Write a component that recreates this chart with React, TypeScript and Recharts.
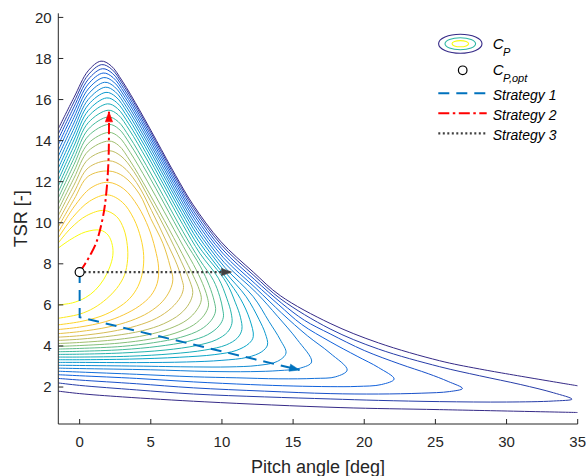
import React from 'react';
import { ComposedChart, Line, Scatter, XAxis, YAxis, Customized } from 'recharts';

type P = [number, number];

const xTicks = [0, 5, 10, 15, 20, 25, 30, 35];
const yTicks = [2, 4, 6, 8, 10, 12, 14, 16, 18, 20];

// Cp contour lines (pitch angle [deg], TSR [-]), outermost (lowest Cp) first
const cp01Upper: P[] = [[-1.5,14.58],[-0.4,16.1],[0.6,17.4],[1.5,17.87],[2.2,17.65],[3.0,16.9],[4.2,15.5],[5.4,14.0],[6.75,12.3],[7.95,10.9],[9.9,9.1],[12.2,7.6],[14.1,6.45],[17.6,5.1],[21.0,4.15],[25.3,3.28],[28.1,2.88],[35,2.06]];
const cp01Lower: P[] = [[-1.5,1.8],[0,1.68],[3,1.52],[8.8,1.28],[18.3,1.0],[25.3,0.9],[35,0.76]];
const cp02: P[] = [[-1.5,14.33],[-0.4,15.88],[0.6,17.2],[1.55,17.7],[2.25,17.48],[3.05,16.73],[4.25,15.33],[5.45,13.83],[6.8,12.13],[8.0,10.73],[9.95,8.93],[12.25,7.43],[14.15,6.28],[17.6,4.83],[21,3.85],[25.3,2.99],[28.1,2.55],[31,2.12],[33.3,1.72],[34.6,1.41],[33.3,1.32],[30,1.27],[25.3,1.29],[21,1.35],[17.6,1.42],[13,1.52],[8,1.66],[4,1.86],[0,2.08],[-1.5,2.2]];
const cp03: P[] = [[-1.5,14.07],[-0.4,15.64],[0.6,16.98],[1.6,17.5],[2.3,17.28],[3.1,16.53],[4.3,15.13],[5.5,13.63],[6.85,11.93],[8.05,10.53],[10.0,8.73],[12.3,7.23],[14.2,6.08],[15.8,5.25],[17.6,4.59],[20,3.78],[22.5,3.12],[24.5,2.65],[25.9,2.27],[26.9,1.93],[26.0,1.78],[24,1.7],[21,1.66],[17.6,1.68],[13,1.8],[8,1.96],[4,2.16],[0,2.34],[-1.5,2.42]];
const cp04: P[] = [[-1.5,13.8],[-0.4,15.39],[0.6,16.75],[1.65,17.29],[2.35,17.07],[3.15,16.32],[4.35,14.92],[5.55,13.42],[6.9,11.72],[8.1,10.32],[10.05,8.52],[12.35,7.02],[14.0,6.0],[15.6,5.05],[17.6,4.21],[19.5,3.5],[21.0,2.95],[22.1,2.39],[21.2,2.12],[19.5,2.03],[17.6,2.02],[15,2.05],[12,2.12],[8,2.25],[4,2.42],[0,2.55],[-1.5,2.6]];
const cp05: P[] = [[-1.5,13.52],[-0.4,15.13],[0.6,16.51],[1.7,17.07],[2.4,16.85],[3.2,16.1],[4.4,14.7],[5.6,13.2],[6.95,11.5],[8.15,10.1],[10.1,8.3],[12.4,6.8],[14.2,5.6],[16.0,4.5],[17.6,3.65],[18.8,2.83],[18.0,2.5],[16.5,2.42],[14,2.4],[11,2.45],[8,2.5],[4,2.62],[0,2.73],[-1.5,2.77]];
const cp06: P[] = [[-1.5,13.24],[-0.4,14.86],[0.6,16.26],[1.75,16.84],[2.45,16.62],[3.25,15.87],[4.45,14.47],[5.65,12.97],[7.0,11.27],[8.2,9.87],[10.15,8.07],[12.45,6.57],[13.9,5.45],[15.3,4.3],[16.3,3.22],[15.5,2.92],[14,2.8],[12,2.75],[9,2.76],[5,2.84],[0,2.9],[-1.5,2.92]];
const cp07: P[] = [[-1.5,12.95],[-0.4,14.59],[0.6,16.0],[1.8,16.6],[2.5,16.38],[3.3,15.63],[4.5,14.23],[5.7,12.73],[7.05,11.03],[8.25,9.63],[10.2,7.83],[12.2,6.4],[13.3,5.2],[14.1,4.3],[14.5,3.65],[13.9,3.25],[12.5,3.05],[10.5,2.98],[8,2.98],[4,3.02],[0,3.05],[-1.5,3.06]];
const cp08: P[] = [[-1.5,12.66],[-0.4,14.31],[0.6,15.74],[1.85,16.35],[2.55,16.13],[3.35,15.38],[4.55,13.98],[5.75,12.48],[7.1,10.78],[8.3,9.38],[10.25,7.58],[11.7,6.4],[12.6,5.3],[13.05,4.6],[13.2,4.05],[12.8,3.72],[11.8,3.45],[10,3.3],[7.5,3.22],[4,3.19],[0,3.2],[-1.5,3.2]];
const cp09: P[] = [[-1.5,12.37],[-0.4,14.03],[0.6,15.46],[1.9,16.08],[2.6,15.86],[3.4,15.11],[4.6,13.71],[5.8,12.21],[7.15,10.51],[8.35,9.11],[10.3,7.31],[11.3,6.3],[11.95,5.3],[12.2,4.45],[11.9,4.12],[11.0,3.78],[9.5,3.58],[7,3.45],[3.5,3.36],[0,3.33],[-1.5,3.33]];
const cp10: P[] = [[-1.5,12.08],[-0.4,13.74],[0.6,15.17],[1.95,15.79],[2.65,15.57],[3.45,14.82],[4.65,13.42],[5.85,11.92],[7.2,10.22],[8.4,8.82],[10.3,7.1],[10.95,6.1],[11.3,5.4],[11.4,4.8],[11.1,4.4],[10.3,4.05],[8.8,3.8],[6.5,3.62],[3.5,3.5],[0,3.46],[-1.5,3.46]];
const cp11: P[] = [[-1.5,11.79],[-0.4,13.44],[0.6,14.87],[2.0,15.48],[2.7,15.26],[3.5,14.51],[4.7,13.11],[5.9,11.61],[7.25,9.91],[8.45,8.51],[9.75,7.3],[10.35,6.3],[10.65,5.6],[10.7,5.1],[10.4,4.68],[9.6,4.3],[8.2,4.02],[6,3.8],[3,3.66],[0,3.6],[-1.5,3.59]];
const cp12: P[] = [[-1.5,11.5],[-0.4,13.14],[0.6,14.55],[2.0,15.15],[2.7,14.93],[3.5,14.18],[4.7,12.78],[5.9,11.28],[7.25,9.58],[8.45,8.18],[9.4,7.2],[9.85,6.4],[10.05,5.8],[10.1,5.4],[9.8,4.98],[9.0,4.55],[7.6,4.22],[5.5,3.98],[3,3.82],[0,3.74],[-1.5,3.72]];
const cp13: P[] = [[-1.5,11.21],[-0.4,12.83],[0.6,14.22],[2.05,14.79],[2.75,14.57],[3.55,13.82],[4.75,12.42],[5.95,10.92],[7.3,9.22],[8.5,7.85],[9.1,6.95],[9.45,6.2],[9.55,5.7],[9.25,5.25],[8.5,4.8],[7.1,4.42],[5.2,4.16],[3,3.98],[0,3.88],[-1.5,3.85]];
const cp14: P[] = [[-1.5,10.92],[-0.4,12.5],[0.6,13.86],[2.05,14.4],[2.75,14.18],[3.55,13.43],[4.75,12.03],[5.95,10.53],[7.3,8.83],[8.2,7.7],[8.75,6.85],[9.0,6.3],[9.05,5.95],[8.75,5.5],[8.0,5.02],[6.7,4.62],[5.0,4.34],[2.8,4.14],[0,4.02],[-1.5,3.98]];
const cp15: P[] = [[-1.5,10.63],[-0.4,12.17],[0.6,13.49],[2.05,13.98],[2.75,13.76],[3.55,13.01],[4.75,11.61],[5.95,10.11],[7.2,8.5],[8.0,7.4],[8.4,6.75],[8.55,6.25],[8.25,5.77],[7.55,5.27],[6.3,4.84],[4.7,4.53],[2.6,4.31],[0,4.17],[-1.5,4.12]];
const cp16: P[] = [[-1.5,10.35],[-0.4,11.83],[0.6,13.09],[2.05,13.51],[2.9,13.25],[3.8,12.5],[4.95,11.1],[6.1,9.6],[7.15,8.1],[7.75,7.15],[7.95,6.6],[7.7,6.07],[7.05,5.55],[5.9,5.08],[4.4,4.74],[2.4,4.5],[0,4.33],[-1.5,4.27]];
const cp17: P[] = [[-1.5,10.07],[-0.4,11.48],[0.6,12.67],[2.05,13.02],[3.0,12.75],[4.0,11.95],[5.05,10.6],[6.05,9.15],[6.85,7.95],[7.2,7.2],[7.3,6.85],[7.1,6.4],[6.45,5.85],[5.4,5.35],[4.0,4.98],[2.2,4.7],[0,4.5],[-1.5,4.43]];
const cp18: P[] = [[-1.5,9.8],[-0.4,11.13],[0.6,12.26],[2.05,12.52],[3.1,12.25],[4.2,11.4],[5.0,10.2],[5.85,9.0],[6.35,7.9],[6.55,7.25],[6.35,6.72],[5.8,6.15],[4.85,5.63],[3.6,5.23],[2.0,4.92],[0,4.7],[-1.5,4.6]];
const cp19: P[] = [[-1.5,9.53],[-0.4,10.77],[0.8,11.7],[2.0,11.97],[3.1,11.65],[4.1,10.8],[4.85,9.75],[5.3,8.75],[5.55,7.8],[5.45,7.05],[5.0,6.45],[4.2,5.95],[3.1,5.52],[1.8,5.18],[0,4.92],[-1.5,4.8]];
const cp20: P[] = [[-1.5,9.27],[-0.5,10.25],[0.7,11.05],[1.95,11.36],[3.0,11.0],[3.8,10.2],[4.3,9.25],[4.5,8.4],[4.42,7.6],[4.1,6.9],[3.5,6.3],[2.6,5.82],[1.5,5.45],[0,5.18],[-1.5,5.03]];
const cp21: P[] = [[-1.5,9.02],[-0.6,9.75],[0.5,10.35],[1.73,10.6],[2.6,10.3],[3.1,9.7],[3.35,8.9],[3.37,8.2],[3.15,7.45],[2.6,6.8],[1.9,6.3],[1.0,5.85],[0,5.55],[-1.5,5.35]];
const cp22: P[] = [[-1.5,8.77],[-0.6,9.2],[0.4,9.55],[1.45,9.64],[2.0,9.4],[2.3,8.9],[2.33,8.4],[2.12,7.85],[1.7,7.25],[1.1,6.72],[0.4,6.35],[-0.5,6.1],[-1.5,6.0]];

const optimumPoint: P[] = [[0, 7.6]];
const strategy1: P[] = [[0, 7.6], [0, 5.4], [15.45, 2.83]];
const strategy2: P[] = [[0, 7.6], [0.4, 8.02], [0.8, 8.5], [1.15, 9.0], [1.45, 9.7], [1.72, 10.6], [1.88, 11.5], [1.98, 12.4], [2.04, 13.3], [2.06, 14.3], [2.06, 15.4]];
const strategy3: P[] = [[0, 7.6], [10.67, 7.6]];
const strategyLabels = ['Strategy 1', 'Strategy 2', 'Strategy 3'];

const contourSeries: { pts: P[]; level: number }[] = [
  { pts: cp01Upper, level: 0 }, { pts: cp01Lower, level: 0 },
  { pts: cp02, level: 1 }, { pts: cp03, level: 2 }, { pts: cp04, level: 3 }, { pts: cp05, level: 4 },
  { pts: cp06, level: 5 }, { pts: cp07, level: 6 }, { pts: cp08, level: 7 }, { pts: cp09, level: 8 },
  { pts: cp10, level: 9 }, { pts: cp11, level: 10 }, { pts: cp12, level: 11 }, { pts: cp13, level: 12 },
  { pts: cp14, level: 13 }, { pts: cp15, level: 14 }, { pts: cp16, level: 15 }, { pts: cp17, level: 16 },
  { pts: cp18, level: 17 }, { pts: cp19, level: 18 }, { pts: cp20, level: 19 }, { pts: cp21, level: 20 },
  { pts: cp22, level: 21 },
];
const LEVELS = 21;

const FONT = '"Liberation Sans", Arial, Helvetica, sans-serif';
const AXIS = '#262626';
const BLUE = '#0072BD';
const RED = '#FF0000';
const GRAY = '#404040';

const PARULA = ['#352A87', '#0F5CDD', '#1481D6', '#06A4CA', '#2EB7A4', '#87BF77', '#D1BB59', '#FEC832', '#F9FB0E'];
function parula(t: number): string {
  const s = Math.max(0, Math.min(1, t)) * (PARULA.length - 1);
  const i = Math.min(Math.floor(s), PARULA.length - 2);
  const f = s - i;
  const a = PARULA[i], b = PARULA[i + 1];
  const ch = (h: string, k: number) => parseInt(h.slice(1 + 2 * k, 3 + 2 * k), 16);
  const c = [0, 1, 2].map((k) => Math.round(ch(a, k) + (ch(b, k) - ch(a, k)) * f));
  return `rgb(${c[0]},${c[1]},${c[2]})`;
}

const toObj = (pts: P[]) => pts.map(([x, y]) => ({ x, y }));

// centripetal Catmull-Rom curve factory (smooth line through the points)
const catmullRom: any = (context: any) => {
  let pts: number[][] = [];
  return {
    areaStart() {},
    areaEnd() {},
    lineStart() { pts = []; },
    point(x: number, y: number) { pts.push([+x, +y]); },
    lineEnd() {
      const n = pts.length;
      if (!n) return;
      context.moveTo(pts[0][0], pts[0][1]);
      for (let i = 0; i < n - 1; i++) {
        const p0 = pts[i > 0 ? i - 1 : i];
        const p1 = pts[i];
        const p2 = pts[i + 1];
        const p3 = pts[i + 2 < n ? i + 2 : i + 1];
        const d01 = Math.hypot(p1[0] - p0[0], p1[1] - p0[1]);
        const d12 = Math.hypot(p2[0] - p1[0], p2[1] - p1[1]);
        const d23 = Math.hypot(p3[0] - p2[0], p3[1] - p2[1]);
        const a01 = Math.sqrt(d01), a12 = Math.sqrt(d12), a23 = Math.sqrt(d23);
        let c1x = p1[0], c1y = p1[1], c2x = p2[0], c2y = p2[1];
        if (a01 > 1e-6) {
          const a = 2 * d01 + 3 * a01 * a12 + d12;
          const m = 3 * a01 * (a01 + a12);
          c1x = (p1[0] * a - p0[0] * d12 + p2[0] * d01) / m;
          c1y = (p1[1] * a - p0[1] * d12 + p2[1] * d01) / m;
        }
        if (a23 > 1e-6) {
          const b = 2 * d23 + 3 * a23 * a12 + d12;
          const m = 3 * a23 * (a23 + a12);
          c2x = (p2[0] * b + p1[0] * d23 - p3[0] * d12) / m;
          c2y = (p2[1] * b + p1[1] * d23 - p3[1] * d12) / m;
        }
        context.bezierCurveTo(c1x, c1y, c2x, c2y, p2[0], p2[1]);
      }
    },
  };
};

function makeArrow(color: string, count: number) {
  const seen: Record<number, [number, number]> = {};
  return (props: any) => {
    const { cx, cy, index } = props;
    seen[index] = [cx, cy];
    if (index !== count - 1 || !seen[index - 1]) return <g key={`a-${index}`} />;
    const [px, py] = seen[index - 1];
    let dx = cx - px, dy = cy - py;
    const L = Math.hypot(dx, dy) || 1;
    dx /= L; dy /= L;
    const len = 10, hw = 3.6;
    const bx = cx - dx * len, by = cy - dy * len;
    const pts = `${cx},${cy} ${bx - dy * hw},${by + dx * hw} ${bx + dy * hw},${by - dx * hw}`;
    return <polygon key={`a-${index}`} points={pts} fill={color} stroke={color} strokeWidth={0.6} />;
  };
}

const Overlay = () => {
  const lx1 = 438.3, lx2 = 486.7, tx = 492.7;
  return (
    <g fontFamily={FONT}>
      <text x={318} y={472.7} textAnchor="middle" fontSize={18} fill={AXIS}>Pitch angle [deg]</text>
      <text x={26.7} y={218.7} transform="rotate(-90 26.7 218.7)" textAnchor="middle" fontSize={18} fill={AXIS}>TSR [-]</text>
      <ellipse cx={460.3} cy={43.7} rx={21.7} ry={9.5} fill="none" stroke={parula(0)} strokeWidth={1.1} />
      <ellipse cx={460.3} cy={43.7} rx={15.3} ry={6} fill="none" stroke={parula(0.5)} strokeWidth={1.1} />
      <ellipse cx={460.3} cy={43.7} rx={8.3} ry={3.1} fill="none" stroke={parula(1)} strokeWidth={1.1} />
      <text x={tx} y={48.5} fontSize={15} fontStyle="italic" fill="#000">C</text>
      <text x={503} y={55.5} fontSize={11} fontStyle="italic" fill="#000">P</text>
      <circle cx={462.7} cy={70.3} r={4.3} fill="none" stroke="#000" strokeWidth={1.2} />
      <text x={tx} y={75} fontSize={15} fontStyle="italic" fill="#000">C</text>
      <text x={503} y={81.5} fontSize={11} fontStyle="italic" fill="#000">P,opt</text>
      <line x1={lx1} x2={lx2} y1={93.3} y2={93.3} stroke={BLUE} strokeWidth={2} strokeDasharray="11 7" />
      <text x={tx} y={99.5} fontSize={14} fontStyle="italic" fill="#000">{strategyLabels[0]}</text>
      <line x1={lx1} x2={lx2} y1={113.3} y2={113.3} stroke={RED} strokeWidth={2} strokeDasharray="11 3.5 2.5 3.5" />
      <text x={tx} y={119.5} fontSize={14} fontStyle="italic" fill="#000">{strategyLabels[1]}</text>
      <line x1={lx1} x2={lx2} y1={133.3} y2={133.3} stroke={GRAY} strokeWidth={2.2} strokeDasharray="2 2.5" />
      <text x={tx} y={139.5} fontSize={14} fontStyle="italic" fill="#000">{strategyLabels[2]}</text>
    </g>
  );
};

export default function App() {
  const tickStyle = { fontSize: 15, fill: AXIS, fontFamily: FONT };
  return (
    <div style={{ position: 'absolute', left: 0, top: 0, width: 586, height: 476, background: '#fff' }}>
      <ComposedChart width={586} height={476} margin={{ top: 13.3, right: 8.3, bottom: 22, left: 8.3 }}>
        <XAxis type="number" dataKey="x" domain={[-1.5, 35]} allowDataOverflow ticks={xTicks} interval={0}
          tickSize={-5} tickMargin={17.65} height={30} tick={tickStyle}
          axisLine={{ stroke: AXIS }} tickLine={{ stroke: AXIS }} />
        <XAxis xAxisId="top" orientation="top" type="number" dataKey="x" domain={[-1.5, 35]} allowDataOverflow
          ticks={xTicks} interval={0} tickSize={-5} height={0} tick={false}
          axisLine={{ stroke: AXIS }} tickLine={{ stroke: AXIS }} />
        <YAxis type="number" domain={[0.2, 20.2]} allowDataOverflow ticks={yTicks} interval={0}
          tickSize={-5} tickMargin={11.6} width={50} tick={tickStyle}
          axisLine={{ stroke: AXIS }} tickLine={{ stroke: AXIS }} />
        <YAxis yAxisId="right" orientation="right" type="number" domain={[0.2, 20.2]} allowDataOverflow
          ticks={yTicks} interval={0} tickSize={-5} width={0} tick={false}
          axisLine={{ stroke: AXIS }} tickLine={{ stroke: AXIS }} />
        {contourSeries.map((c, i) => (
          <Line key={`c${i}`} data={toObj(c.pts)} dataKey="y" type={catmullRom}
            stroke={parula(c.level / LEVELS)} strokeWidth={1} dot={false} activeDot={false}
            isAnimationActive={false} legendType="none" />
        ))}
        <Line data={toObj(strategy1)} dataKey="y" type="linear" stroke={BLUE} strokeWidth={2}
          strokeDasharray="11 7" dot={makeArrow(BLUE, strategy1.length)} activeDot={false} isAnimationActive={false} />
        <Line data={toObj(strategy2)} dataKey="y" type={catmullRom} stroke={RED} strokeWidth={2}
          strokeDasharray="11 3.5 2.5 3.5" dot={makeArrow(RED, strategy2.length)} activeDot={false} isAnimationActive={false} />
        <Line data={toObj(strategy3)} dataKey="y" type="linear" stroke={GRAY} strokeWidth={2.2}
          strokeDasharray="2 2.5" dot={makeArrow(GRAY, strategy3.length)} activeDot={false} isAnimationActive={false} />
        <Scatter data={toObj(optimumPoint)} dataKey="y" isAnimationActive={false}
          shape={(p: any) => <circle cx={p.cx} cy={p.cy} r={4.5} fill="#fff" stroke="#000" strokeWidth={1.2} />} />
        <Customized component={<Overlay />} />
      </ComposedChart>
    </div>
  );
}
